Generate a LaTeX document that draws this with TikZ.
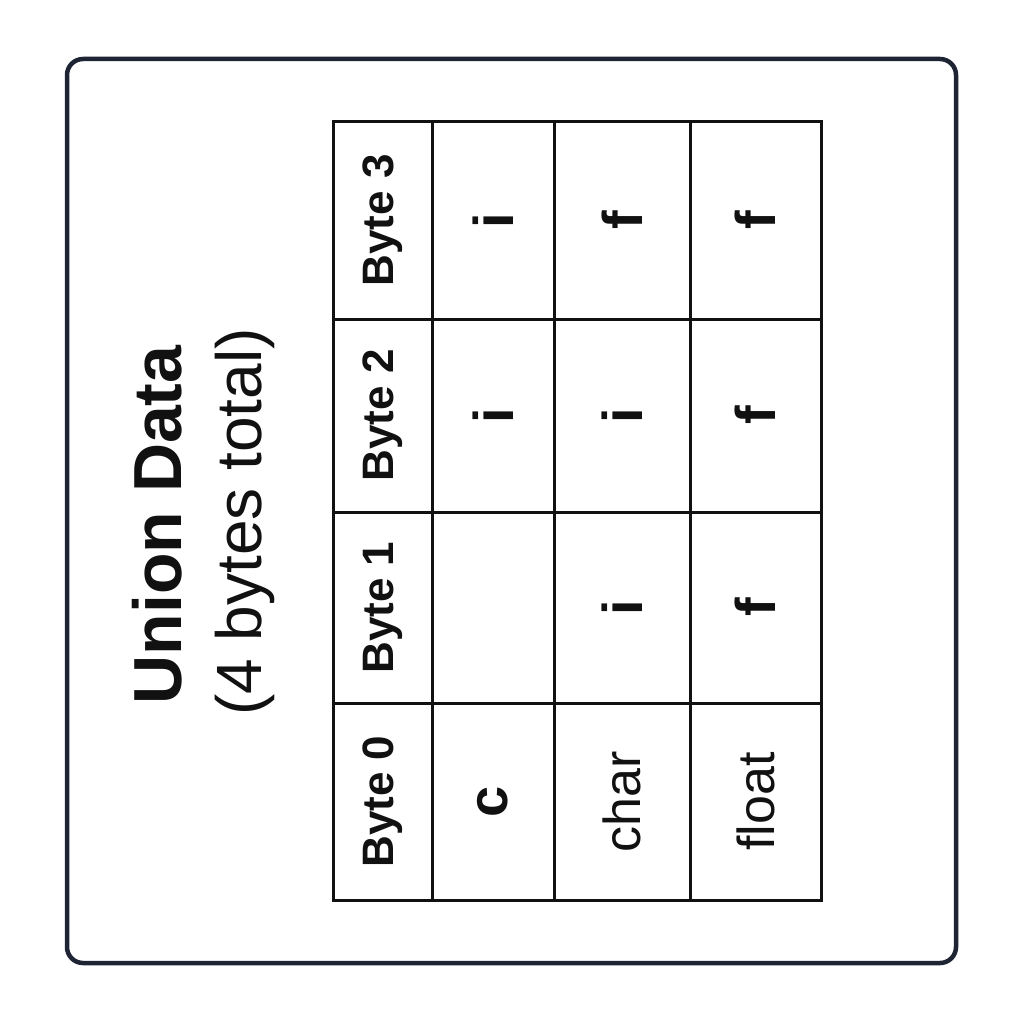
\documentclass[tikz,border=0pt]{standalone}
\usepackage{fontspec}
\setmainfont{Liberation Sans}
\definecolor{frame}{HTML}{1E2433}
\definecolor{ink}{HTML}{111111}
\begin{document}
\begin{tikzpicture}[x=1pt,y=-1pt,
  cell/.style={draw=ink, line width=3pt, rotate=90, inner sep=0pt, text=ink, anchor=center},
  hdr/.style={cell, font=\fontsize{44}{48}\selectfont\bfseries},
  val/.style={cell, font=\fontsize{56}{60}\selectfont\bfseries},
  typ/.style={cell, font=\fontsize{52}{56}\selectfont},
]
\useasboundingbox (0,0) rectangle (1024,1024);
\fill[white] (0,0) rectangle (1024,1024);
\node[draw=frame, line width=4.5pt, rounded corners=16pt, minimum width=889pt, minimum height=904pt, inner sep=0pt] (frameBox) at (511.5,511) {};
% title
\node[rotate=90, font=\fontsize{68}{72}\selectfont\bfseries, text=ink] (title) at (157,525) {Union Data};
\node[rotate=90, font=\fontsize{64}{68}\selectfont, text=ink] (subtitle) at (245,522) {(4 bytes total)};
% column 1: byte headers (x 333-432)
\node[hdr, minimum width=197pt, minimum height=99pt] (h3) at (382.5,220.5) {Byte 3};
\node[hdr, minimum width=193pt, minimum height=99pt] (h2) at (382.5,415.5) {Byte 2};
\node[hdr, minimum width=191pt, minimum height=99pt] (h1) at (382.5,607.5) {Byte 1};
\node[hdr, minimum width=197pt, minimum height=99pt] (h0) at (382.5,801.5) {Byte 0};
% column 2 (x 432-554)
\node[val, minimum width=197pt, minimum height=122pt] (c3) at (493,220.5) {i};
\node[val, minimum width=193pt, minimum height=122pt] (c2) at (493,415.5) {i};
\node[val, minimum width=191pt, minimum height=122pt] (c1) at (493,607.5) {};
\node[val, minimum width=197pt, minimum height=122pt] (c0) at (493,801.5) {c};
% column 3 (x 554-690)
\node[val, minimum width=197pt, minimum height=136pt] (i3) at (622,220.5) {f};
\node[val, minimum width=193pt, minimum height=136pt] (i2) at (622,415.5) {i};
\node[val, minimum width=191pt, minimum height=136pt] (i1) at (622,607.5) {i};
\node[typ, minimum width=197pt, minimum height=136pt] (i0) at (622,801.5) {char};
% column 4 (x 690-821)
\node[val, minimum width=197pt, minimum height=131pt] (f3) at (755.5,220.5) {f};
\node[val, minimum width=193pt, minimum height=131pt] (f2) at (755.5,415.5) {f};
\node[val, minimum width=191pt, minimum height=131pt] (f1) at (755.5,607.5) {f};
\node[typ, minimum width=197pt, minimum height=131pt] (f0) at (755.5,801.5) {float};
\end{tikzpicture}
\end{document}
